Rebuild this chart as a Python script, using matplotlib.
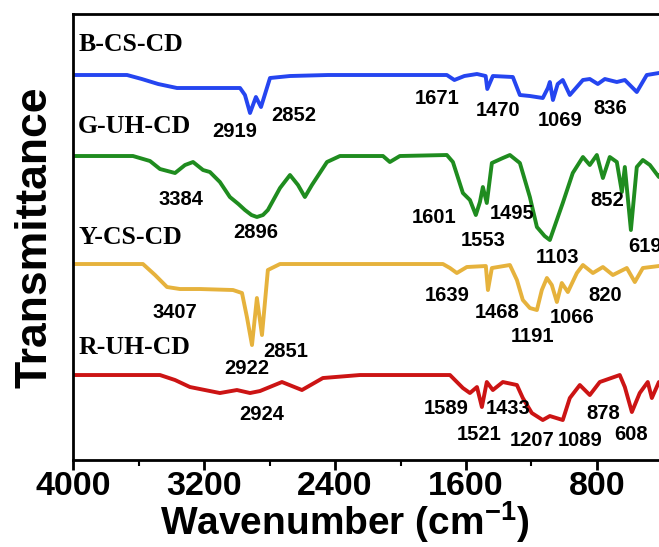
import matplotlib
matplotlib.use("Agg")
import matplotlib.pyplot as plt
from matplotlib.ticker import MultipleLocator

plt.rcParams['font.family'] = ['Liberation Sans', 'DejaVu Sans']
plt.rcParams['mathtext.fontset'] = 'custom'
plt.rcParams['mathtext.rm'] = 'Liberation Sans:bold'
plt.rcParams['mathtext.bf'] = 'Liberation Sans:bold'

# spectra: wavenumber (cm-1) and transmittance (a.u., 100 = baseline)
b_wn = [4000, 3670, 3580, 3480, 3365, 2980, 2950, 2919, 2883, 2852, 2797, 2675, 2443, 1717,
        1671, 1610, 1533, 1480, 1470, 1436, 1314, 1271, 1210, 1131, 1100, 1088, 1069, 1040,
        1009, 966, 886, 844, 795, 752, 679, 630, 557, 496, 422, 400]
b_t = [100, 100, 96, 91, 87, 87, 80, 62, 78, 68, 97, 99, 100, 100,
       95, 99, 101, 99, 86, 99, 98, 80, 79, 77, 87, 93, 75, 91,
       95, 80, 95, 96, 91, 96, 93, 95, 83, 100, 102, 102]

g_wn = [4000, 3634, 3530, 3469, 3377, 3316, 3267, 3206, 3164, 3103, 3042, 2990, 2950, 2910,
        2877, 2840, 2810, 2736, 2675, 2626, 2584, 2541, 2449, 2370, 2248, 2107, 2065, 2004,
        1717, 1680, 1619, 1576, 1540, 1515, 1497, 1473, 1442, 1375, 1332, 1271, 1210, 1167,
        1120, 1088, 1009, 948, 886, 844, 801, 764, 722, 679, 648, 630, 593, 557, 520, 477,
        422, 400]
g_t = [100, 100, 95, 87, 83, 91, 94, 86, 84, 74, 59, 52, 46, 41,
       39, 41, 46, 68, 81, 71, 59, 71, 94, 100, 100, 100, 94, 100,
       101, 94, 63, 56, 41, 54, 69, 53, 93, 98, 101, 93, 59, 29,
       20, 16, 53, 83, 99, 91, 101, 78, 99, 94, 64, 89, 26, 89, 96, 91,
       79, 86]

y_wn = [4000, 3573, 3499, 3426, 3347, 3225, 3023, 2968, 2938, 2907, 2877, 2846, 2810, 2736,
        1741, 1698, 1656, 1595, 1479, 1466, 1442, 1332, 1289, 1253, 1210, 1167, 1137, 1106,
        1076, 1045, 1015, 978, 923, 886, 825, 764, 703, 618, 569, 520, 422, 400]
y_t = [100, 100, 89, 77, 75, 75, 74, 71, 47, 19, 66, 29, 94, 100,
       100, 96, 91, 97, 98, 74, 96, 99, 84, 64, 56, 54, 74, 86,
       79, 62, 81, 72, 91, 99, 91, 97, 89, 96, 82, 96, 98, 98]

r_wn = [4000, 3469, 3377, 3286, 3103, 2999, 2919, 2858, 2724, 2602, 2474, 2248, 1698, 1619,
        1576, 1533, 1503, 1473, 1436, 1375, 1289, 1253, 1198, 1131, 1088, 1009, 966, 905,
        844, 783, 661, 630, 587, 539, 490, 465, 422, 400]
r_t = [100, 100, 95, 88, 82, 85, 82, 84, 93, 85, 97, 100, 100, 87,
       82, 88, 68, 93, 85, 93, 90, 77, 62, 55, 59, 55, 77, 90,
       80, 93, 100, 88, 63, 82, 93, 77, 93, 90]

names = ['B-CS-CD', 'G-UH-CD', 'Y-CS-CD', 'R-UH-CD']
colors = ['#2545f0', '#1f8c1f', '#e6b23c', '#cc1414']
offsets = [285, 204, 96, -15]
name_y = [416, 334, 223, 113]

# peak labels: (text, x, y) in data coords
peak_labels = [
    ('2919', 3011, 329), ('2852', 2651, 345), ('1671', 1778, 362), ('1470', 1405, 350),
    ('1069', 1027, 340), ('836', 722, 352),
    ('3384', 3341, 261), ('2896', 2883, 228), ('1601', 1796, 243), ('1553', 1497, 220),
    ('1495', 1320, 247), ('1103', 1039, 203), ('852', 740, 260), ('619', 508, 214),
    ('3407', 3377, 148), ('2922', 2938, 92), ('2851', 2700, 109), ('1639', 1717, 165),
    ('1468', 1411, 148), ('1191', 1192, 124), ('1066', 954, 143), ('820', 752, 165),
    ('2924', 2846, 46), ('1589', 1723, 52), ('1433', 1344, 52), ('1521', 1521, 26),
    ('1207', 1198, 20), ('1089', 905, 20), ('608', 593, 26), ('878', 764, 47),
]

fig = plt.figure(figsize=(6.59, 5.47), dpi=100)
ax = fig.add_axes([0.1108, 0.159, 0.8945, 0.8154])

series = [(b_wn, b_t), (g_wn, g_t), (y_wn, y_t), (r_wn, r_t)]
for (wn, t), c, off, nm, ny in zip(series, colors, offsets, names, name_y):
    ax.plot(wn, [v + off for v in t], color=c, lw=2.8, solid_joinstyle='round',
            solid_capstyle='round')
    ax.text(3969, ny, nm, family='Liberation Serif', fontweight='bold', fontsize=18.5,
            ha='left', va='center')

for txt, x, y in peak_labels:
    ax.text(x, y, txt, fontsize=14.5, fontweight='bold', ha='center', va='center')

ax.set_xlim(4000, 400)
ax.set_ylim(0, 446)
ax.xaxis.set_major_locator(MultipleLocator(800))
ax.xaxis.set_minor_locator(MultipleLocator(400))
ax.set_yticks([])
ax.tick_params(axis='x', which='major', direction='out', length=7, width=2,
               labelsize=24.5, pad=1)
ax.tick_params(axis='x', which='minor', direction='out', length=4, width=1.5)
for lbl in ax.get_xticklabels():
    lbl.set_fontweight('bold')
for s in ['left', 'bottom', 'top', 'right']:
    ax.spines[s].set_linewidth(2)

fig.text(345 / 659, 1 - 535 / 547, r'Wavenumber (cm$^{-1}$)', fontsize=28,
         fontweight='bold', ha='center', va='baseline')
fig.text(35 / 659, 1 - 237 / 547, 'Transmittance', fontsize=32, fontweight='bold',
         rotation=90, ha='center', va='center')

fig.savefig('out.png', dpi=100)
